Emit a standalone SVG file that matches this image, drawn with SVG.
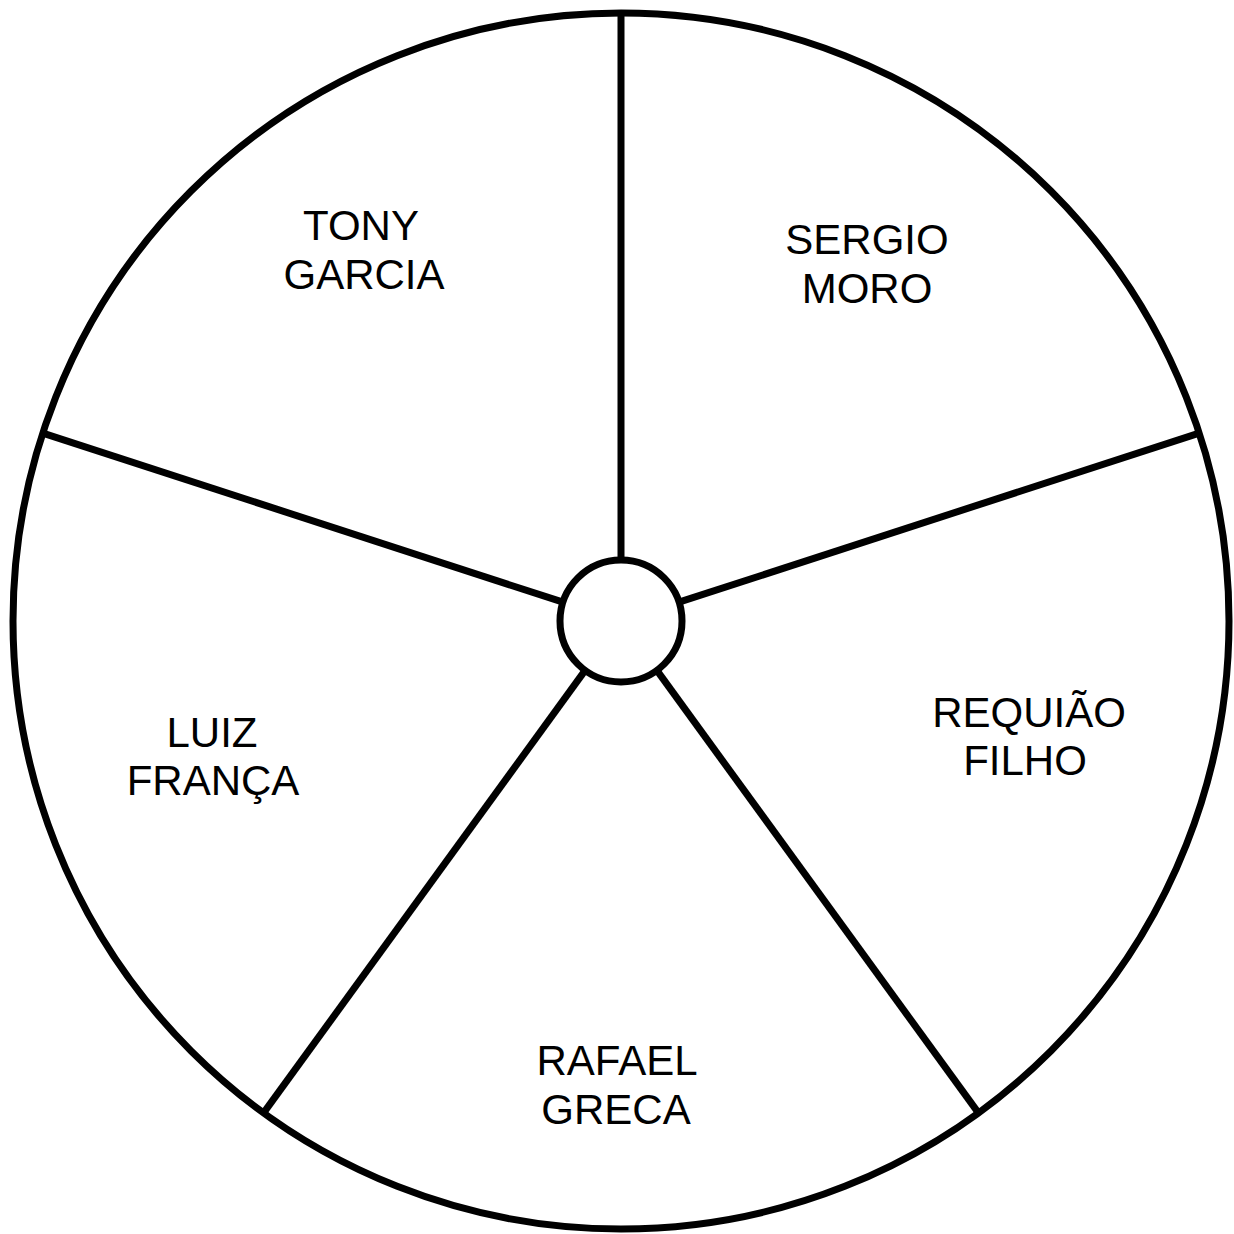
<svg xmlns="http://www.w3.org/2000/svg" width="1234" height="1234" viewBox="0 0 1234 1234">
<style>
.ln{stroke:#000;stroke-width:7;fill:none}
.c{stroke:#000;stroke-width:7;fill:#fff}
text{font-family:"Liberation Sans",Arial,sans-serif;font-size:42px;fill:#000;text-anchor:middle}
</style>
<rect width="1234" height="1234" fill="#fff"/>
<g id="wheel">
<circle class="c" cx="621" cy="621" r="608"/>
</g>
<g id="connectors">
<line class="ln" x1="621" y1="13" x2="621" y2="560"/>
<line class="ln" x1="1199.2" y1="433.1" x2="679" y2="602.2"/>
<line class="ln" x1="42.8" y1="433.1" x2="563" y2="602.2"/>
<line class="ln" x1="978.4" y1="1112.9" x2="656.9" y2="670.4"/>
<line class="ln" x1="263.6" y1="1112.9" x2="585.1" y2="670.4"/>
</g>
<g id="hub">
<circle class="c" cx="621" cy="621" r="61"/>
</g>
<g id="tony-garcia"><text x="361" y="240">TONY</text><text x="364" y="289">GARCIA</text></g>
<g id="sergio-moro"><text x="867" y="254">SERGIO</text><text x="867" y="303">MORO</text></g>
<g id="requiao-filho"><text x="1029" y="727">REQUIÃO</text><text x="1025" y="775">FILHO</text></g>
<g id="luiz-franca"><text x="212" y="747">LUIZ</text><text x="213" y="795">FRANÇA</text></g>
<g id="rafael-greca"><text x="617" y="1075">RAFAEL</text><text x="616" y="1124">GRECA</text></g>
</svg>
